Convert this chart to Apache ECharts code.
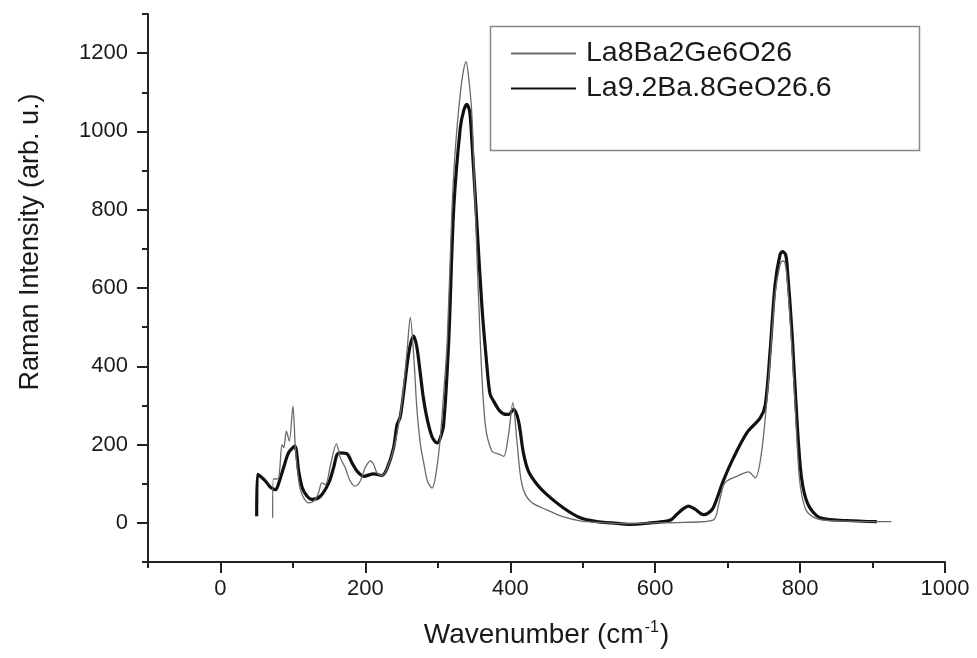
<!DOCTYPE html>
<html>
<head>
<meta charset="utf-8">
<title>Raman spectra</title>
<script src="https://cdn.jsdelivr.net/npm/echarts@6/dist/echarts.min.js"></script>
<style>
  html, body { margin: 0; padding: 0; background: #fff; }
  #chart { width: 977px; height: 658px; }
</style>
</head>
<body>
<div id="chart"></div>
<script>
// legend names
const seriesNames = ['La8Ba2Ge6O26', 'La9.2Ba.8GeO26.6']

// tick values
const xMajorTicks = [0, 200, 400, 600, 800, 1000]
const xMinorTicks = [-100, 100, 300, 500, 700, 900]
const yMajorTicks = [0, 200, 400, 600, 800, 1000, 1200]
const yMinorTicks = [-100, 100, 300, 500, 700, 900, 1100, 1300]

// La8Ba2Ge6O26 (thin line)
const thinX = [72, 73, 76, 80.5, 85, 87.4, 91, 95, 100, 103.4, 108, 112.7, 121.8, 128.7, 135, 140, 145, 152, 160, 165.5,
  172.4, 179, 186, 193, 200, 207, 211.5, 216, 223, 230, 240, 248, 253, 258, 262, 267, 271, 276, 281, 286,
  292, 297, 303, 308, 313, 319.6, 324, 329, 334, 339, 343, 347, 351.7, 358.6, 365.5, 374.7, 383.9, 390.8, 397.7, 403.5,
  409.2, 416.1, 427.6, 450.6, 473.5, 496.5, 520, 560, 600, 640, 680, 688, 694, 699, 712.7, 728.7, 738, 747, 756, 765.5,
  772.4, 776, 779, 782, 789, 795.5, 800, 809, 827.6, 870, 926]
const thinY = [13, 112, 112, 115, 200, 192, 234, 209, 298, 192, 107, 72, 51, 55, 75, 102, 98, 149, 202, 166,
  140, 107, 94, 107, 142, 158, 149, 128, 121, 139, 195, 275, 350, 450, 525, 420, 294, 200, 149, 105,
  89, 120, 209, 330, 464, 805, 950, 1060, 1140, 1178, 1130, 1043, 805, 464, 251, 183, 176, 170, 227, 307,
  209, 98, 55, 33, 15, 5, 1, -2, 0, 1, 7, 50, 95, 107, 119, 130, 115, 183, 354, 584,
  660, 669, 665, 626, 439, 217, 98, 30, 8, 4, 3]

// La9.2Ba.8GeO26.6 (thick line)
const thickX = [50, 51, 55, 62, 69, 76, 80, 87, 94, 102.5, 108, 113, 119.6, 126.4, 138, 149.4, 156, 161, 165.5, 175,
  181.6, 188.6, 197.7, 211.5, 223, 230, 239, 243.7, 248, 253, 258, 262, 266.7, 271, 276, 280, 285, 292, 299, 303,
  308, 315, 322, 331, 336, 340, 344, 347, 354, 361, 368, 372, 377, 386, 395, 398, 404.6, 411.4, 418, 425,
  437, 450.6, 473.5, 496.5, 519.6, 540, 565.5, 590, 611, 622, 630, 638, 646, 655, 666.6, 673, 680, 694, 708, 726.5,
  745, 752, 758.6, 765.5, 772.4, 776, 780, 782, 789, 795.5, 802, 811, 827.6, 864, 906]
const thickY = [17, 124, 119, 107, 91, 85, 99, 140, 179, 196, 132, 89, 68, 60, 68, 102, 140, 175, 179, 176,
  153, 132, 119, 125, 121, 139, 192, 251, 270, 335, 410, 455, 477, 450, 379, 320, 268, 220, 204, 215,
  251, 464, 805, 1009, 1055, 1069, 1050, 975, 762, 549, 396, 330, 311, 285, 277, 277, 290, 260, 180, 132,
  98, 72, 38, 13, 3, 0, -4, -1, 3, 8, 22, 35, 43, 35, 21, 25, 38, 107, 166, 230,
  268, 302, 439, 609, 686, 693, 685, 660, 481, 268, 115, 47, 13, 6, 3]

const zip = (xs, ys) => xs.map((x, i) => [x, ys[i]])

const textColor = '#1a1a1a'
const axisColor = '#222'
const fontFamily = '"Liberation Sans", Arial, sans-serif'
const plainNumber = v => String(v)

const chart = echarts.init(document.getElementById('chart'))

const option = {
  animation: false,
  backgroundColor: '#fff',
  textStyle: { fontFamily: fontFamily },
  grid: { left: 148, right: 32, top: 14, bottom: 96, containLabel: false },
  legend: {
    orient: 'vertical',
    left: 510,
    top: 39,
    padding: 0,
    itemWidth: 65,
    itemHeight: 20,
    itemGap: 6,
    data: seriesNames,
    itemStyle: { opacity: 0 },
    textStyle: { fontSize: 28.5, color: textColor, fontFamily: fontFamily, padding: [0, 0, 0, 5] }
  },
  graphic: [{
    type: 'rect',
    left: 488,
    top: 24,
    shape: { width: 429, height: 124 },
    style: { fill: 'none', stroke: '#888', lineWidth: 1.5 },
    z: 1
  }],
  xAxis: [{
    type: 'value',
    min: -100,
    max: 1000,
    name: '{t|Wavenumber (cm}{s|-1}{t|)}',
    nameLocation: 'middle',
    nameGap: 58,
    nameTextStyle: {
      rich: {
        t: { fontSize: 28, color: textColor, fontFamily: fontFamily },
        s: { fontSize: 16, color: textColor, fontFamily: fontFamily, padding: [0, 1, 15, 1] }
      }
    },
    axisLine: { onZero: false, lineStyle: { color: axisColor, width: 2 } },
    axisTick: { customValues: xMajorTicks, length: 11, lineStyle: { color: axisColor, width: 2 } },
    axisLabel: { customValues: xMajorTicks, formatter: plainNumber, fontSize: 22, color: textColor, margin: 16 },
    splitLine: { show: false }
  }, {
    type: 'value',
    min: -100,
    max: 1000,
    position: 'bottom',
    axisLine: { show: false, onZero: false },
    axisTick: { customValues: xMinorTicks, length: 6, lineStyle: { color: axisColor, width: 2 } },
    axisLabel: { show: false },
    splitLine: { show: false }
  }],
  yAxis: [{
    type: 'value',
    min: -100,
    max: 1300,
    name: 'Raman Intensity (arb. u.)',
    nameLocation: 'middle',
    nameGap: 104,
    nameTextStyle: { fontSize: 27, color: textColor, padding: [0, 0, 0, 92] },
    axisLine: { show: true, onZero: false, lineStyle: { color: axisColor, width: 2 } },
    axisTick: { show: true, customValues: yMajorTicks, length: 11, lineStyle: { color: axisColor, width: 2 } },
    axisLabel: { customValues: yMajorTicks, formatter: plainNumber, fontSize: 22, color: textColor, margin: 20 },
    splitLine: { show: false }
  }, {
    type: 'value',
    min: -100,
    max: 1300,
    position: 'left',
    axisLine: { show: false, onZero: false },
    axisTick: { show: true, customValues: yMinorTicks, length: 6, lineStyle: { color: axisColor, width: 2 } },
    axisLabel: { show: false },
    splitLine: { show: false }
  }],
  series: [{
    name: seriesNames[0],
    type: 'line',
    data: zip(thinX, thinY),
    showSymbol: false,
    symbol: 'none',
    smooth: 0.3,
    lineStyle: { color: '#6a6a6a', width: 1.3 },
    itemStyle: { color: '#6a6a6a' },
    z: 3
  }, {
    name: seriesNames[1],
    type: 'line',
    data: zip(thickX, thickY),
    showSymbol: false,
    symbol: 'none',
    smooth: 0.3,
    lineStyle: { color: '#111', width: 3.2 },
    itemStyle: { color: '#111' },
    z: 2
  }]
}

chart.setOption(option)
window.addEventListener('resize', () => chart.resize())
</script>
</body>
</html>
